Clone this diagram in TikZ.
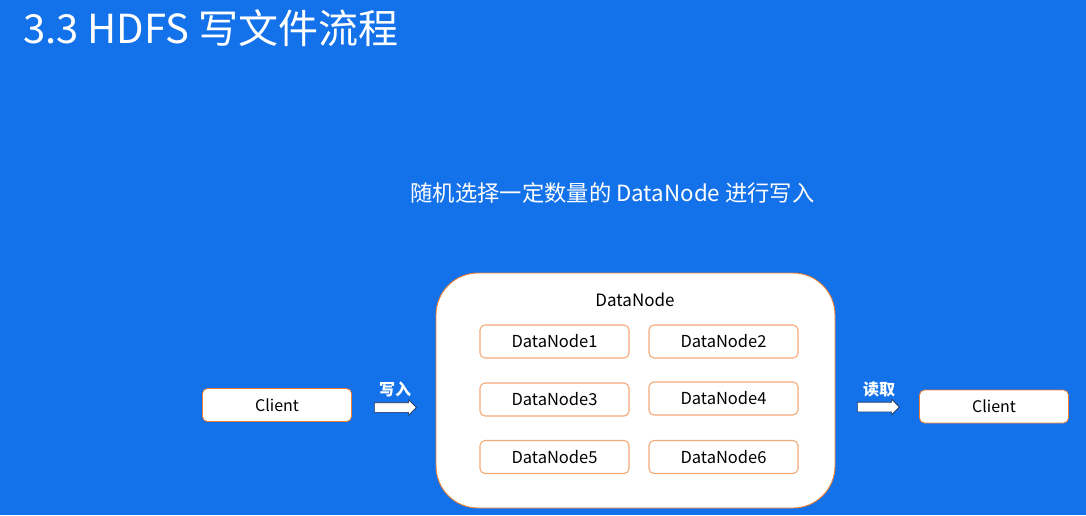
\documentclass[tikz,border=0pt]{standalone}
\usepackage{fontspec}
\setmainfont{Noto Sans CJK SC}
\usetikzlibrary{shapes.arrows}
\definecolor{bg}{RGB}{19,113,233}
\definecolor{bigborder}{RGB}{237,125,49}
\definecolor{smallborder}{RGB}{244,170,120}
\definecolor{arrowline}{RGB}{30,45,80}
\tikzset{
  dnbox/.style={draw=smallborder, line width=1.1pt, fill=white, rounded corners=5pt,
    minimum width=149pt, minimum height=33pt, inner sep=0pt,
    font=\fontsize{16.5}{19}\selectfont, text=black},
  clientbox/.style={dnbox, draw=bigborder, line width=0.8pt, font=\fontsize{16}{19}\selectfont},
  blockarrow/.style={single arrow, draw=arrowline, line width=0.6pt, fill=white,
    inner sep=4.5pt, minimum height=42pt, minimum width=15pt,
    single arrow head extend=3pt},
  arrowlabel/.style={text=white, font=\fontsize{16}{19}\selectfont\bfseries, inner sep=0pt},
}
\begin{document}
\begin{tikzpicture}[x=1pt,y=-1pt]
  \fill[bg] (0,0) rectangle (1086,515);
  \useasboundingbox (0,0) rectangle (1086,515);
  \node[anchor=base west, text=white, inner sep=0pt, font=\fontsize{40}{44}\selectfont] (title) at (23,43) {3.3 HDFS 写文件流程};
  \node[anchor=base, text=white, inner sep=0pt, font=\fontsize{22.3}{26}\selectfont] (subtitle) at (612.5,201) {随机选择一定数量的 DataNode 进行写入};
  \node[draw=bigborder, line width=0.9pt, fill=white, rounded corners=42pt,
        minimum width=399pt, minimum height=235pt, inner sep=0pt] (group) at (635.5,390.5) {};
  \node[anchor=base, inner sep=0pt, font=\fontsize{17}{20}\selectfont, text=black] (grouptitle) at (635,306) {DataNode};
  \node[dnbox] (dn1) at (554.5,341.5) {DataNode1};
  \node[dnbox] (dn2) at (723.5,341.5) {DataNode2};
  \node[dnbox] (dn3) at (554.5,399.5) {DataNode3};
  \node[dnbox] (dn4) at (723.5,398.5) {DataNode4};
  \node[dnbox] (dn5) at (554.5,457) {DataNode5};
  \node[dnbox] (dn6) at (723.5,457) {DataNode6};
  \node[clientbox] (client1) at (277,405) {Client};
  \node[clientbox] (client2) at (994,406.5) {Client};
  \node[blockarrow] (warrow) at (393,407.5) {};
  \node[arrowlabel] (wlabel) at (395,389.5) {写入};
  \node[blockarrow] (rarrow) at (876,407) {};
  \node[arrowlabel] (rlabel) at (879,389.5) {读取};
\end{tikzpicture}
\end{document}
